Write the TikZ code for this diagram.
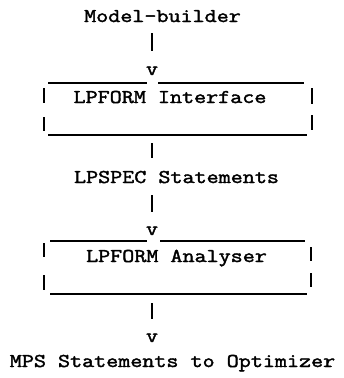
\documentclass[tikz,border=0pt]{standalone}
\usepackage{fontspec}
\setmonofont[FakeStretch=1.2, FakeBold=2]{Latin Modern Mono}
\usetikzlibrary{positioning}

\tikzset{
  ascii/.style={font=\ttfamily\fontsize{19.5}{19.5}\selectfont, inner sep=0pt, anchor=base},
  rule/.style={draw=black, line width=1.3pt},
  bar/.style={draw=black, line width=1.5pt}
}

\begin{document}
\begin{tikzpicture}[x=1pt, y=-1pt]
\useasboundingbox (0,0) rectangle (344,378);

\node[ascii] (mb) at (162.5,22) {Model-builder};
\node[ascii] (v1) at (152,75) {v};
\node[ascii] (iface) at (170,103) {LPFORM Interface};
\node[ascii] (spec) at (176.5,183) {LPSPEC Statements};
\node[ascii] (v2) at (152,235) {v};
\node[ascii] (anal) at (176.5,262) {LPFORM Analyser};
\node[ascii] (v3) at (152,342) {v};
\node[ascii] (mps) at (172.5,367) {MPS Statements to Optimizer};

% first box
\draw [rule] (48,83) -- (147,83);
\draw [rule] (158,83) -- (304,83);
\draw [rule] (48,135) -- (307,135);
\draw [bar] (44,88) -- (44,103);
\draw [bar] (44,117) -- (44,131);
\draw [bar] (312,88) -- (312,104);
\draw [bar] (312,115) -- (312,130);

% second box
\draw [rule] (50,241) -- (147,241);
\draw [rule] (160,241) -- (305,241);
\draw [rule] (50,294) -- (307,294);
\draw [bar] (44,243) -- (44,257);
\draw [bar] (44,275) -- (44,290);
\draw [bar] (311,247) -- (311,261);
\draw [bar] (311,273) -- (311,287);

% flow bars
\draw [bar, shorten <=11pt, shorten >=24pt] (v1 |- mb.base) -- (v1.base);
\draw [bar, shorten <=40pt, shorten >=25pt] (v1 |- iface.base) -- (v1 |- spec.base);
\draw [bar, shorten <=12pt, shorten >=23pt] (v2 |- spec.base) -- (v2.base);
\draw [bar, shorten <=41pt, shorten >=23pt] (v3 |- anal.base) -- (v3.base);
\end{tikzpicture}
\end{document}
